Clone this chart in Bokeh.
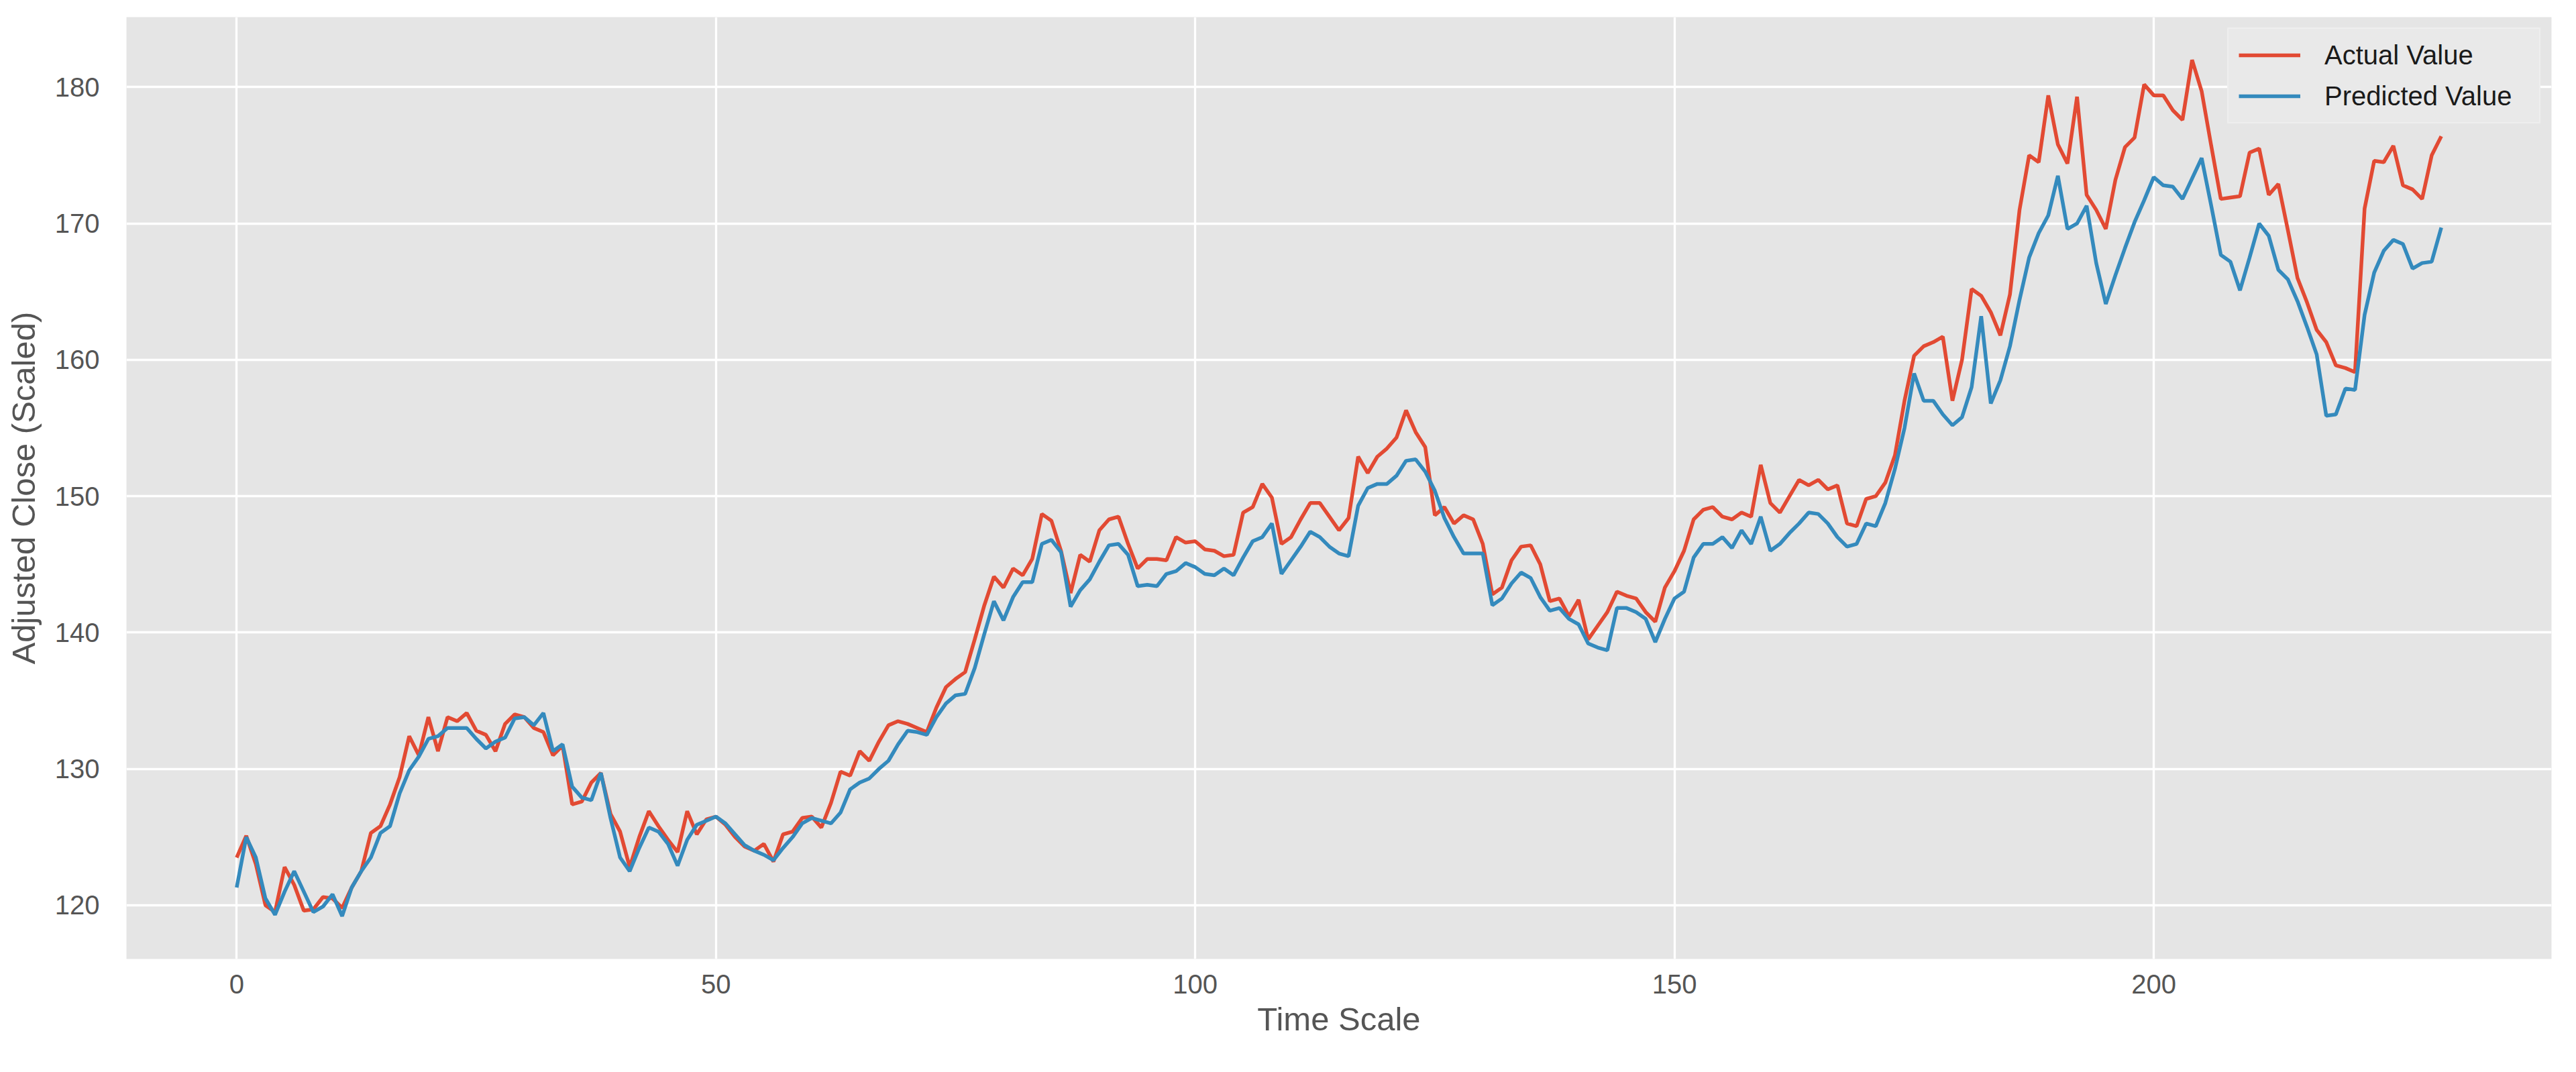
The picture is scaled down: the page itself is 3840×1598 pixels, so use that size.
from bokeh.plotting import figure
from bokeh.models import Range1d, FixedTicker, Legend, LegendItem
from bokeh.embed import file_html
from bokeh.resources import INLINE

# ---- data ----
actual = [
    123.5, 125.1, 123.0, 120.0, 119.5, 122.8, 121.5, 119.6, 119.7, 120.6,
    120.5, 119.8, 121.3, 122.5, 125.3, 125.8, 127.4, 129.4, 132.4, 131.0,
    133.8, 131.3, 133.8, 133.5, 134.1, 132.8, 132.5, 131.3, 133.3, 134.0,
    133.8, 133.0, 132.7, 131.0, 131.7, 127.4, 127.6, 129.0, 129.7, 126.7,
    125.4, 122.8, 125.0, 126.9, 125.8, 124.8, 123.9, 126.9, 125.2, 126.3,
    126.5, 125.9, 125.0, 124.3, 124.0, 124.5, 123.2, 125.2, 125.4, 126.4,
    126.5, 125.7, 127.5, 129.8, 129.5, 131.3, 130.6, 132.0, 133.2, 133.5,
    133.3, 133.0, 132.7, 134.5, 136.0, 136.6, 137.1, 139.5, 142.0, 144.1,
    143.3, 144.7, 144.2, 145.4, 148.7, 148.2, 146.0, 142.9, 145.7, 145.2,
    147.5, 148.3, 148.5, 146.5, 144.7, 145.4, 145.4, 145.3, 147.0, 146.6,
    146.7, 146.1, 146.0, 145.6, 145.7, 148.8, 149.2, 150.9, 149.9, 146.5,
    147.0, 148.3, 149.5, 149.5, 148.5, 147.5, 148.4, 152.9, 151.7, 152.9,
    153.5, 154.3, 156.3, 154.7, 153.6, 148.6, 149.2, 148.0, 148.6, 148.3,
    146.5, 142.8, 143.3, 145.3, 146.3, 146.4, 145.0, 142.3, 142.5, 141.2,
    142.4, 139.5, 140.5, 141.5, 143.0, 142.7, 142.5, 141.5, 140.8, 143.3,
    144.5, 146.0, 148.3, 149.0, 149.2, 148.5, 148.3, 148.8, 148.5, 152.3,
    149.5, 148.8, 150.0, 151.2, 150.8, 151.2, 150.5, 150.8, 148.0, 147.8,
    149.8, 150.0, 151.0, 153.0, 157.0, 160.3, 161.0, 161.3, 161.7, 157.0,
    160.0, 165.2, 164.7, 163.5, 161.8, 164.8, 171.0, 175.0, 174.5, 179.4,
    175.8, 174.4, 179.3, 172.1, 171.0, 169.6, 173.2, 175.6, 176.3, 180.2,
    179.4, 179.4, 178.3, 177.6, 182.0, 179.7, 175.7, 171.8, 171.9, 172.0,
    175.2, 175.5, 172.1, 172.9, 169.5, 166.0, 164.2, 162.2, 161.3, 159.6,
    159.4, 159.1, 171.1, 174.6, 174.5, 175.7, 172.8, 172.5, 171.8, 175.0,
    176.4,
]

predicted = [
    121.3, 125.0, 123.5, 120.5, 119.3, 121.0, 122.5, 121.0, 119.5, 119.9,
    120.8, 119.2, 121.3, 122.5, 123.5, 125.3, 125.8, 128.2, 129.9, 130.9,
    132.2, 132.4, 133.0, 133.0, 133.0, 132.2, 131.5, 132.0, 132.3, 133.7,
    133.8, 133.2, 134.1, 131.3, 131.8, 128.7, 127.9, 127.7, 129.7, 126.4,
    123.5, 122.5, 124.2, 125.7, 125.4, 124.5, 122.9, 124.8, 125.9, 126.2,
    126.5, 126.0, 125.2, 124.4, 124.0, 123.7, 123.3, 124.2, 125.0, 126.0,
    126.4, 126.2, 126.0, 126.8, 128.5, 129.0, 129.3, 130.0, 130.6, 131.8,
    132.8, 132.7, 132.5, 133.8, 134.8, 135.4, 135.5, 137.4, 139.9, 142.3,
    140.9, 142.6, 143.7, 143.7, 146.5, 146.8, 145.9, 141.9, 143.1, 143.9,
    145.2, 146.4, 146.5, 145.7, 143.4, 143.5, 143.4, 144.3, 144.5, 145.1,
    144.8, 144.3, 144.2, 144.7, 144.2, 145.5, 146.7, 147.0, 148.0, 144.3,
    145.3, 146.3, 147.4, 147.0, 146.3, 145.8, 145.6, 149.3, 150.6, 150.9,
    150.9, 151.5, 152.6, 152.7, 151.8, 150.4, 148.4, 147.0, 145.8, 145.8,
    145.8, 142.0, 142.5, 143.6, 144.4, 144.0, 142.6, 141.6, 141.8, 141.0,
    140.6, 139.2, 138.9, 138.7, 141.8, 141.8, 141.5, 141.0, 139.3, 141.0,
    142.5, 143.0, 145.5, 146.5, 146.5, 147.0, 146.2, 147.5, 146.5, 148.5,
    146.0, 146.5, 147.3, 148.0, 148.8, 148.7, 148.0, 147.0, 146.3, 146.5,
    148.0, 147.8, 149.5, 152.0, 155.0, 159.0, 157.0, 157.0, 156.0, 155.2,
    155.8, 158.0, 163.2, 156.8, 158.5, 161.0, 164.4, 167.5, 169.3, 170.6,
    173.5, 169.6, 170.0, 171.3, 167.1, 164.1, 166.2, 168.2, 170.1, 171.7,
    173.4, 172.8, 172.7, 171.8, 173.3, 174.8, 171.3, 167.7, 167.2, 165.1,
    167.5, 170.0, 169.1, 166.6, 165.9, 164.3, 162.4, 160.4, 155.9, 156.0,
    157.9, 157.8, 163.3, 166.4, 168.0, 168.8, 168.5, 166.7, 167.1, 167.2,
    169.7,
]

x_ticks = [0, 50, 100, 150, 200]
y_ticks = [120, 130, 140, 150, 160, 170, 180]
series_labels = ["Actual Value", "Predicted Value"]
x_label = "Time Scale"
y_label = "Adjusted Close (Scaled)"

time_index = list(range(len(actual)))

FONT = "Liberation Sans"

p = figure(
    width=3824, height=1582,
    output_backend="svg", toolbar_location=None,
    x_range=Range1d(-11.5, 241.5),
    y_range=Range1d(116.06, 185.14),
    min_border_left=188, min_border_right=21,
    min_border_top=25, min_border_bottom=153,
)
p.background_fill_color = "#E5E5E5"
p.border_fill_color = "white"
p.outline_line_color = None

r_act = p.line(time_index, actual, line_color="#E24A33", line_width=5.5)
r_pred = p.line(time_index, predicted, line_color="#348ABD", line_width=5.5)

p.xaxis.ticker = FixedTicker(ticks=x_ticks)
p.yaxis.ticker = FixedTicker(ticks=y_ticks)
p.xaxis.axis_label = x_label
p.yaxis.axis_label = y_label

for ax in (p.xaxis[0], p.yaxis[0]):
    ax.axis_line_color = None
    ax.major_tick_line_color = None
    ax.minor_tick_line_color = None
    ax.major_tick_out = 0
    ax.major_tick_in = 0
    ax.major_label_text_font = FONT
    ax.major_label_text_font_size = "40px"
    ax.major_label_text_color = "#555555"
    ax.axis_label_text_font = FONT
    ax.axis_label_text_font_size = "49px"
    ax.axis_label_text_font_style = "normal"
    ax.axis_label_text_color = "#555555"

p.yaxis.major_label_standoff = 40
p.yaxis.axis_label_standoff = 17
p.xaxis.major_label_standoff = 23
p.xaxis.axis_label_standoff = 8

p.xgrid.grid_line_color = "white"
p.ygrid.grid_line_color = "white"
p.xgrid.grid_line_width = 3.3
p.ygrid.grid_line_width = 3.3

legend = Legend(
    items=[
        LegendItem(label=series_labels[0], renderers=[r_act]),
        LegendItem(label=series_labels[1], renderers=[r_pred]),
    ],
    location="top_right",
)
legend.margin = 16
legend.padding = 15
legend.spacing = 13
legend.glyph_width = 92
legend.glyph_height = 48
legend.label_height = 48
legend.label_width = 305
legend.label_standoff = 36
legend.label_text_font = FONT
legend.label_text_font_size = "40px"
legend.label_text_color = "#1a1a1a"
legend.background_fill_color = "#E9E9E9"
legend.background_fill_alpha = 1.0
legend.border_line_color = "#F4F4F4"
legend.border_line_width = 2
p.add_layout(legend)

open("out.html", "w").write(file_html(p, INLINE))
